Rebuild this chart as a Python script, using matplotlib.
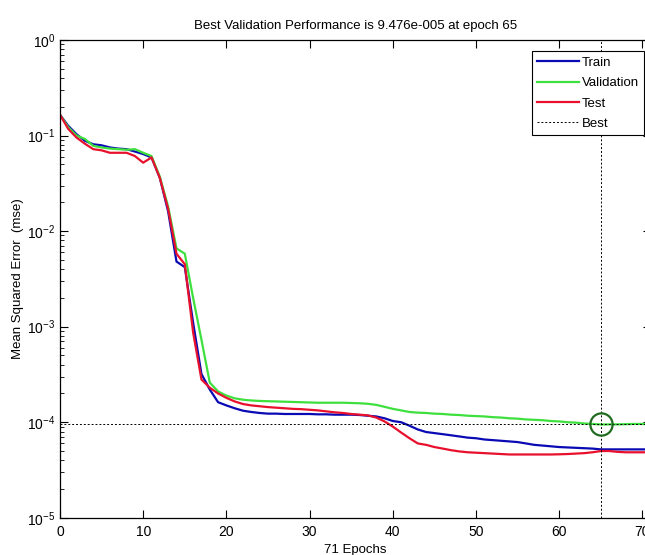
import numpy as np
import matplotlib
matplotlib.use('Agg')
import matplotlib.pyplot as plt
from matplotlib.ticker import FixedLocator, LogLocator, NullFormatter

plt.rcParams['font.family'] = ['Liberation Sans Narrow', 'Liberation Sans', 'DejaVu Sans']
plt.rcParams['mathtext.fontset'] = 'custom'
plt.rcParams['mathtext.rm'] = 'Liberation Sans'
plt.rcParams['mathtext.default'] = 'regular'

# performance per epoch (0..71)
epochs = np.arange(0, 72)
train = [0.165, 0.126, 0.103, 0.088, 0.081, 0.079, 0.075, 0.073, 0.072, 0.068,
         0.064, 0.059, 0.036, 0.016, 0.0048, 0.0042, 0.0011, 0.00032, 0.00022, 0.000162,
         0.00015, 0.00014, 0.000132, 0.000128, 0.000125, 0.000123, 0.000123, 0.000122, 0.000122, 0.000122,
         0.000122, 0.000121, 0.000121, 0.00012, 0.00012, 0.00012, 0.000119, 0.000117, 0.000115, 0.00011,
         0.000103, 0.0001, 9.2e-05, 8.4e-05, 7.9e-05, 7.7e-05, 7.5e-05, 7.3e-05, 7.1e-05, 6.9e-05,
         6.8e-05, 6.6e-05, 6.5e-05, 6.4e-05, 6.3e-05, 6.2e-05, 6.0e-05, 5.8e-05, 5.7e-05, 5.6e-05,
         5.5e-05, 5.45e-05, 5.4e-05, 5.35e-05, 5.3e-05, 5.2e-05, 5.2e-05, 5.2e-05, 5.2e-05, 5.2e-05,
         5.2e-05, 5.2e-05]
validation = [0.165, 0.122, 0.1, 0.092, 0.078, 0.075, 0.073, 0.072, 0.071, 0.072,
              0.066, 0.061, 0.037, 0.018, 0.0066, 0.0058, 0.002, 0.00073, 0.00026, 0.00021,
              0.00019, 0.000178, 0.000172, 0.000169, 0.000167, 0.000166, 0.000165, 0.000164, 0.000163, 0.000162,
              0.000161, 0.00016, 0.00016, 0.00016, 0.00016, 0.000159, 0.000158, 0.000156, 0.000152, 0.000145,
              0.000138, 0.000133, 0.000128, 0.000126, 0.000125, 0.000123, 0.000122, 0.00012, 0.000119, 0.000117,
              0.000116, 0.000115, 0.000113, 0.000112, 0.00011, 0.000109, 0.000107, 0.000106, 0.000105, 0.000103,
              0.000102, 0.0001, 9.9e-05, 9.7e-05, 9.6e-05, 9.476e-05, 9.5e-05, 9.5e-05, 9.55e-05, 9.6e-05,
              9.6e-05, 9.6e-05]
test = [0.165, 0.117, 0.095, 0.082, 0.072, 0.07, 0.066, 0.066, 0.066, 0.061,
        0.052, 0.059, 0.036, 0.017, 0.0058, 0.0045, 0.00087, 0.00028, 0.00023, 0.0002,
        0.00018, 0.000165, 0.000155, 0.00015, 0.000147, 0.000144, 0.000142, 0.00014, 0.000138, 0.000137,
        0.000135, 0.000133, 0.00013, 0.000127, 0.000125, 0.000122, 0.00012, 0.000118, 0.000112, 0.000102,
        9.0e-05, 7.8e-05, 6.8e-05, 6.0e-05, 5.8e-05, 5.5e-05, 5.3e-05, 5.1e-05, 4.95e-05, 4.85e-05,
        4.8e-05, 4.75e-05, 4.7e-05, 4.65e-05, 4.6e-05, 4.6e-05, 4.6e-05, 4.6e-05, 4.6e-05, 4.6e-05,
        4.62e-05, 4.65e-05, 4.7e-05, 4.75e-05, 4.85e-05, 5.0e-05, 5.0e-05, 4.9e-05, 4.85e-05, 4.85e-05,
        4.85e-05, 4.85e-05]
best_epoch = 65
best_perf = 9.476e-05

fig = plt.figure(figsize=(6.45, 5.55), dpi=100)
ax = fig.add_axes([0.093, 0.067, 0.916, 0.861])

ax.semilogy(epochs, train, color='#0a0ab4', lw=1.6, label='Train')
ax.semilogy(epochs, validation, color='#3ee03e', lw=1.6, label='Validation')
ax.semilogy(epochs, test, color='#e8102c', lw=1.6, label='Test')
ax.axvline(best_epoch, color='k', ls=(0, (2, 2)), lw=0.7, label='Best')
ax.axhline(best_perf, color='k', ls=(0, (2, 2)), lw=0.7)
ax.plot(best_epoch, best_perf, 'o', ms=16, mfc='none', mec='#1f6b1f', mew=1.6)

ax.set_xlim(0, 71)
ax.set_ylim(1e-5, 1)
ax.xaxis.set_major_locator(FixedLocator(np.arange(0, 71, 10)))
ax.yaxis.set_major_locator(LogLocator(base=10, numticks=10))
ax.yaxis.set_minor_locator(LogLocator(base=10, subs=np.arange(2, 10), numticks=10))
ax.yaxis.set_minor_formatter(NullFormatter())
ax.tick_params(which='both', direction='in', top=True, right=True, labelsize=10)
ax.tick_params(which='major', length=6, width=0.8)
ax.tick_params(which='minor', length=3, width=0.6)
ax.tick_params(axis='x', pad=5)
for s in ax.spines.values():
    s.set_linewidth(0.9)

ax.set_title('Best Validation Performance is 9.476e-005 at epoch 65', fontsize=9.5, pad=8)
ax.set_xlabel('71 Epochs', fontsize=9.5, labelpad=4)
ax.set_ylabel('Mean Squared Error  (mse)', fontsize=9.5, labelpad=2)

leg = ax.legend(loc='upper right', bbox_to_anchor=(1.0, 0.99), fontsize=9.5,
                fancybox=False, edgecolor='k', framealpha=1, handlelength=3.2,
                handletextpad=0.2, borderpad=0.4, labelspacing=0.62)
leg.get_frame().set_linewidth(0.8)

fig.savefig('out.png', dpi=100)
